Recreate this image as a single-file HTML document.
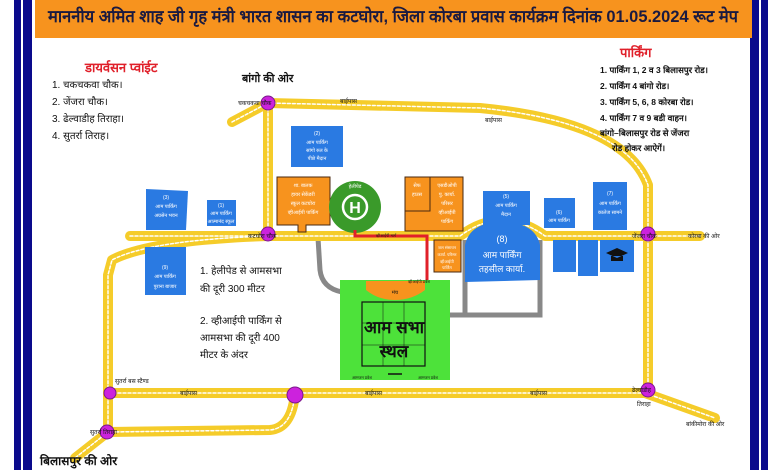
<!DOCTYPE html>
<html><head><meta charset="utf-8"><style>
html,body{margin:0;padding:0;background:#fff}
svg{display:block}
text{font-family:"Liberation Sans","Noto Sans CJK SC",sans-serif}
</style></head><body>
<svg width="780" height="470" viewBox="0 0 780 470" xmlns="http://www.w3.org/2000/svg">
<rect width="780" height="470" fill="#fff"/>
<!-- frame -->
<rect x="14" y="0" width="18" height="470" fill="#0a0a8c"/>
<rect x="750" y="0" width="18" height="470" fill="#0a0a8c"/>
<rect x="21" y="0" width="2" height="470" fill="#fff"/>
<rect x="759" y="0" width="2" height="470" fill="#fff"/>
<rect x="35" y="0" width="717" height="38" fill="#f7931e"/>
<text x="48" y="22" font-size="17" font-weight="bold" fill="#1a1a40" textLength="690" lengthAdjust="spacingAndGlyphs">माननीय अमित शाह  जी  गृह मंत्री भारत शासन का कटघोरा, जिला कोरबा प्रवास कार्यक्रम दिनांक  01.05.2024 रूट मेप</text>

<!-- left lists -->
<text x="85" y="72" font-size="13" font-weight="bold" fill="#e0202a">डायर्वसन प्वांईट</text>
<g font-size="10" fill="#111"><text x="52" y="88">1. चकचकवा चौक।</text><text x="52" y="105">2. जेंजरा चौक।</text><text x="52" y="122">3. ढेल्वाडीह तिराहा।</text><text x="52" y="139">4. सुतर्रा तिराह।</text></g>
<text x="620" y="57" font-size="13" font-weight="bold" fill="#e0202a">पार्किंग</text>

<text x="242" y="82" font-size="11" font-weight="bold" fill="#111">बांगो की ओर</text>

<!-- gray paths -->
<path d="M318 238 L320 270 Q322 288 342 292" stroke="#888" stroke-width="5" fill="none"/>
<path d="M465 240 L465 315 L540 315 L540 240" stroke="#888" stroke-width="5" fill="none"/>
<line x1="450" y1="315" x2="465" y2="315" stroke="#888" stroke-width="5"/>

<!-- roads -->
<g fill="none" stroke-linecap="round" stroke-linejoin="round">
<g stroke="#f5cc2a" stroke-width="10">
<path d="M232 122 L268 103 L480 108 Q625 122 648 185 L648 393"/>
<path d="M268 103 L268 236"/>
<path d="M130 236 L460 236 Q502 205 545 236 L700 236"/>
<path d="M268 236 Q150 240 112 260 L108 275 L108 432 L75 458"/>
<path d="M108 393 L648 393"/>
<path d="M295 393 Q292 428 270 430 L108 432"/>
<path d="M645 393 L715 418"/>
</g>
<g stroke="#fff" stroke-width="1.5" stroke-dasharray="3 2">
<path d="M232 122 L268 103 L480 108 Q625 122 648 185 L648 393"/>
<path d="M268 103 L268 236"/>
<path d="M130 236 L460 236 Q502 205 545 236 L700 236"/>
<path d="M268 236 Q150 240 112 260 L108 275 L108 432 L75 458"/>
<path d="M108 393 L648 393"/>
<path d="M295 393 Q292 428 270 430 L108 432"/>
<path d="M645 393 L715 418"/>
</g>
</g>
<g font-size="8.5" fill="#111" font-weight="bold"><text x="600" y="73">1. पार्किंग 1, 2 व 3 बिलासपुर रोड।</text><text x="600" y="89">2. पार्किंग 4 बांगो रोड।</text><text x="600" y="105">3. पार्किंग 5, 6, 8 कोरबा रोड।</text><text x="600" y="121">4. पार्किंग 7 व 9 बडी वाहन।</text><text x="600" y="136">बांगो–बिलासपुर रोड से जेंजरा</text><text x="612" y="151">रोड होकर आऐगें।</text></g>

<!-- buildings blue -->
<g fill="#2a7ae2">
<rect x="291" y="126" width="52" height="41"/>
<path d="M146 189 L188 191 L186 230 L146 230 Z"/>
<rect x="207" y="200" width="29" height="26"/>
<rect x="145" y="247" width="41" height="48"/>
<rect x="483" y="191" width="47" height="34"/>
<rect x="544" y="198" width="31" height="30"/>
<rect x="593" y="182" width="34" height="48"/>
<path d="M465 300 L465 245 Q470 222 502 222 Q535 222 540 245 L540 280 L465 282 Z"/>
<rect x="553" y="240" width="23" height="32"/>
<rect x="578" y="240" width="20" height="36"/>
<rect x="600" y="240" width="34" height="32"/>
</g>
<g font-size="5" fill="#fff" text-anchor="middle">
<text x="317" y="135">(2)</text><text x="317" y="144">आम पार्किंग</text><text x="317" y="152">सांगो रुल के</text><text x="317" y="160">पीछे मैदान</text>
<text x="166" y="199">(3)</text><text x="166" y="208">आम पार्किंग</text><text x="166" y="217">अग्रसेन भवन</text>
<text x="221" y="207">(1)</text><text x="221" y="215">आम पार्किंग</text><text x="221" y="223">आत्मानंद स्कूल</text>
<text x="165" y="269">(9)</text><text x="165" y="278">आम पार्किंग</text><text x="165" y="288">पुराना बाजार</text>
<text x="506" y="198">(5)</text><text x="506" y="207">आम पार्किंग</text><text x="506" y="216">मैदान</text>
<text x="559" y="214">(6)</text><text x="559" y="222">आम पार्किंग</text>
<text x="610" y="195">(7)</text><text x="610" y="205">आम पार्किंग</text><text x="610" y="214">कालेज सामने</text>
</g>
<g font-size="9" fill="#fff" text-anchor="middle"><text x="502" y="242">(8)</text><text x="502" y="258">आम पार्किंग</text><text x="502" y="272">तहसील कार्या.</text></g>
<path d="M606 253 l11 -5 l11 5 l-11 5 z M611 256 v5 h12 v-5" fill="#111"/>

<!-- orange -->
<path d="M277 177 H330 V225 H306 V232 H298 V225 H277 Z" fill="#f7931e" stroke="#4a2a10" stroke-width="1"/>
<g font-size="5" fill="#fff" text-anchor="middle"><text x="303" y="187">शा. बालक</text><text x="303" y="196">हायर सेकेंडरी</text><text x="303" y="205">स्कूल कटघोरा</text><text x="303" y="214">व्हीआईपी पार्किंग</text></g>
<rect x="405" y="177" width="58" height="54" fill="#f7931e" stroke="#4a2a10"/>
<rect x="405" y="177" width="25" height="34" fill="#f7931e" stroke="#4a2a10"/>
<g font-size="5" fill="#fff" text-anchor="middle"><text x="417" y="187">सेफ</text><text x="417" y="196">हाउस</text><text x="447" y="187">एसडीओपी</text><text x="447" y="196">पु. कार्या.</text><text x="447" y="205">परिसर</text><text x="447" y="214">व्हीआईपी</text><text x="447" y="223">पार्किंग</text></g>
<rect x="434" y="240" width="27" height="32" fill="#f7931e" stroke="#4a2a10"/>
<g font-size="4" fill="#fff" text-anchor="middle"><text x="447" y="249">जल संसाधन</text><text x="447" y="256">कार्या. परिसर</text><text x="447" y="263">व्हीआईपी</text><text x="447" y="269">पार्किंग</text></g>

<!-- helipad -->
<circle cx="355" cy="207" r="26" fill="#3a9a2a"/>
<circle cx="355" cy="207" r="12" fill="none" stroke="#fff" stroke-width="2.5"/>
<text x="355" y="213" font-size="16" font-weight="bold" fill="#fff" text-anchor="middle">H</text>
<text x="355" y="188" font-size="5" fill="#fff" text-anchor="middle">हेलीपेड</text>

<!-- red route -->
<path d="M355 230 V236 H427 V282" stroke="#e0202a" stroke-width="3" fill="none"/>
<text x="386" y="237" font-size="4" fill="#111" text-anchor="middle">व्हीआईपी मार्ग</text>

<!-- green field -->
<rect x="340" y="280" width="110" height="100" fill="#4de23a"/>
<path d="M366 281 H425 V290 Q412 300 395 300 Q378 300 366 290 Z" fill="#f7931e"/>
<text x="395" y="294" font-size="5" fill="#111" text-anchor="middle">मंच</text>
<rect x="362" y="302" width="63" height="64" fill="none" stroke="#111" stroke-width="1.2"/>
<line x1="362" y1="323" x2="425" y2="323" stroke="#111" stroke-width=".5"/><line x1="362" y1="345" x2="425" y2="345" stroke="#111" stroke-width=".5"/>
<line x1="383" y1="302" x2="383" y2="366" stroke="#111" stroke-width=".5"/><line x1="404" y1="302" x2="404" y2="366" stroke="#111" stroke-width=".5"/>
<line x1="388" y1="374" x2="402" y2="374" stroke="#111" stroke-width="1.5"/>
<text x="394" y="333" font-size="17" font-weight="bold" fill="#111" text-anchor="middle">आम सभा</text>
<text x="394" y="357" font-size="17" font-weight="bold" fill="#111" text-anchor="middle">स्थल</text>
<text x="408" y="283" font-size="4" fill="#111">व्हीआईपी प्रवेश</text>
<text x="352" y="379" font-size="4" fill="#111">आमजन प्रवेश</text><text x="418" y="379" font-size="4" fill="#111">आमजन प्रवेश</text>

<!-- notes -->
<g font-size="10" fill="#111"><text x="200" y="274">1. हेलीपेड से आमसभा</text><text x="200" y="292">की दूरी 300 मीटर</text><text x="200" y="324">2. व्हीआईपी पार्किंग से</text><text x="200" y="341">आमसभा की दूरी 400</text><text x="200" y="358">मीटर के अंदर</text></g>

<!-- junctions -->
<g fill="#cc22dd" stroke="#7a1a8a" stroke-width="1">
<circle cx="268" cy="103" r="7"/><circle cx="268" cy="234" r="7"/><circle cx="648" cy="234" r="7"/>
<circle cx="110" cy="393" r="6"/><circle cx="295" cy="395" r="8"/><circle cx="648" cy="390" r="7"/><circle cx="107" cy="432" r="7"/>
</g>

<!-- labels -->
<g font-size="6" fill="#111">
<text x="238" y="105">चकचकवा चौक</text>
<text x="340" y="103">बाईपास</text><text x="485" y="122">बाईपास</text>
<text x="248" y="238">कटघोरा चौक</text>
<text x="632" y="238">जेंजरा चौक</text>
<text x="688" y="238">कोरबा की ओर</text>
<text x="115" y="383">सुतर्रा बस स्टैण्ड</text>
<text x="180" y="395">बाईपास</text><text x="365" y="395">बाईपास</text><text x="530" y="395">बाईपास</text>
<text x="632" y="392">ढेल्वाडीह</text><text x="637" y="406">तिराहा</text>
<text x="686" y="426">बांकीमोरा की ओर</text>
<text x="90" y="434">सुतर्रा तिराहा</text>
</g>
<text x="40" y="465" font-size="12" font-weight="bold" fill="#111">बिलासपुर की ओर</text>
</svg>
</body></html>
